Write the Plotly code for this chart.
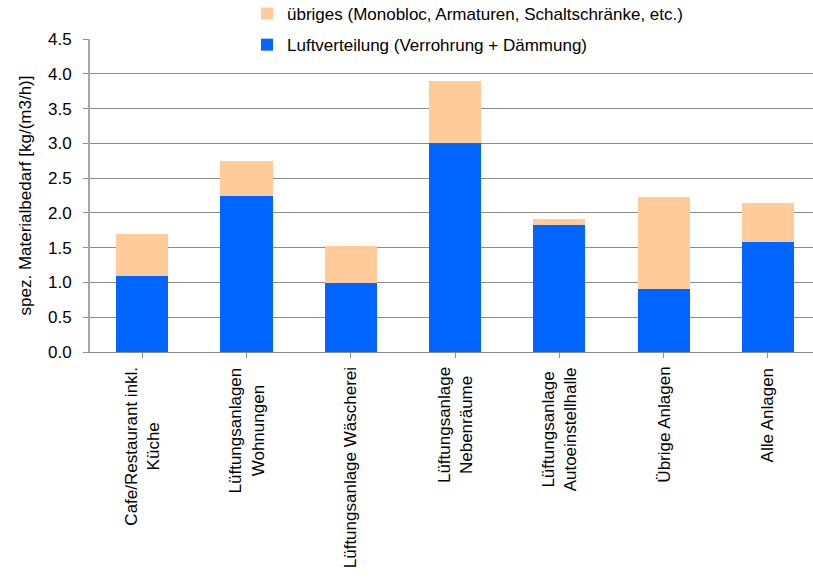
import plotly.graph_objects as go

# Anlagentypen (Kategorien) mit Zeilenumbrüchen für die gedrehten Beschriftungen
categories = [
    "Cafe/Restaurant inkl.<br>Küche",
    "Lüftungsanlagen<br>Wohnungen",
    "Lüftungsanlage Wäscherei",
    "Lüftungsanlage<br>Nebenräume",
    "Lüftungsanlage<br>Autoeinstellhalle",
    "Übrige Anlagen",
    "Alle Anlagen",
]

# spez. Materialbedarf in kg/(m3/h)
luftverteilung = [1.09, 2.24, 0.99, 3.00, 1.82, 0.91, 1.58]
uebriges = [0.60, 0.50, 0.53, 0.90, 0.09, 1.32, 0.56]

y_ticks = [0.0, 0.5, 1.0, 1.5, 2.0, 2.5, 3.0, 3.5, 4.0, 4.5]

name_blue = "Luftverteilung (Verrohrung + Dämmung)"
name_orange = "übriges (Monobloc, Armaturen, Schaltschränke, etc.)"

FONT = "Liberation Sans, Arial, sans-serif"
W, H = 813, 583
ML, MT, MB = 90, 39, 231
plot_w = W - ML
plot_h = H - MT - MB

x_idx = list(range(len(categories)))

fig = go.Figure()
fig.add_trace(go.Bar(
    x=x_idx, y=luftverteilung, name=name_blue,
    marker=dict(color="#0066FF", line=dict(width=0)),
    width=0.5, legendgroup="blue", legendrank=2,
))
fig.add_trace(go.Bar(
    x=x_idx, y=uebriges, name=name_orange,
    marker=dict(color="#FFCC99", line=dict(width=0)),
    width=0.5, legendgroup="orange", legendrank=1,
))

# Kategorienbreite in Pixeln, rechter Rand leicht angeschnitten
cat_px = 104.3
x_max = -0.5 + plot_w / cat_px

# gedrehte, zentrierte Kategoriebeschriftungen
for i, c in enumerate(categories):
    fig.add_annotation(
        x=i, xref="x", y=-13 / plot_h, yref="paper",
        text=c, textangle=-90, showarrow=False,
        xanchor="center", yanchor="top", align="center",
        font=dict(family=FONT, size=17, color="#000000"),
    )

# weißer Legendenhintergrund über der obersten Gitterlinie
fig.add_shape(
    type="rect", xref="paper", yref="paper",
    x0=(233 - ML) / plot_w, x1=(730 - ML) / plot_w,
    y0=1 - 4 / plot_h, y1=1 + 4 / plot_h,
    fillcolor="white", line=dict(width=0), layer="above",
)

fig.update_layout(
    width=W, height=H,
    margin=dict(l=ML, r=0, t=MT, b=MB, pad=0, autoexpand=False),
    barmode="stack",
    plot_bgcolor="white", paper_bgcolor="white",
    font=dict(family=FONT, size=17, color="#000000"),
    showlegend=True,
    legend=dict(
        orientation="v", traceorder="grouped",
        x=(247 - ML) / plot_w, xanchor="left",
        y=1 + 43 / plot_h, yanchor="top",
        bgcolor="rgba(0,0,0,0)",
        font=dict(family=FONT, size=17, color="#000000"),
        tracegroupgap=6, itemwidth=30,
    ),
    xaxis=dict(
        range=[-0.5, x_max], tickmode="array", tickvals=x_idx,
        showticklabels=False, ticks="outside", tickson="boundaries",
        ticklen=5, tickcolor="#8c8c8c", tickwidth=1,
        showline=True, linecolor="#8c8c8c", linewidth=1,
        showgrid=False, zeroline=False, fixedrange=True,
    ),
    yaxis=dict(
        range=[0, 4.5], tickmode="array", tickvals=y_ticks,
        ticktext=[f"{v:.1f}" for v in y_ticks],
        ticks="outside", ticklen=5, tickcolor="#8c8c8c",
        ticklabelstandoff=8,
        showline=True, linecolor="#a6a6a6", linewidth=2,
        showgrid=True, gridcolor="#8c8c8c", gridwidth=1,
        zeroline=False,
        title=dict(text="spez. Materialbedarf [kg/(m3/h)]", standoff=12,
                   font=dict(family=FONT, size=17)),
        tickfont=dict(family=FONT, size=17),
    ),
)

fig.write_html("out.html")
